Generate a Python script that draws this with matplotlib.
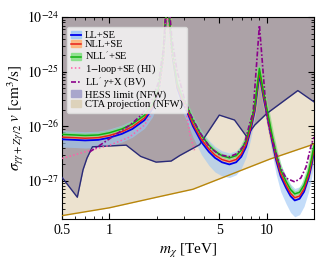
import numpy as np
import matplotlib
matplotlib.use("Agg")
import matplotlib.pyplot as plt
from matplotlib.patches import Patch
from matplotlib.lines import Line2D
from matplotlib.ticker import FixedLocator, NullFormatter, FixedFormatter

plt.rcParams['font.family'] = ['Liberation Serif', 'DejaVu Serif']
plt.rcParams['mathtext.fontset'] = 'stix'

# ---------------- data (log10 of sigma v in cm^3/s) ----------------
x_se = [0.5, 0.6, 0.7, 0.85, 1.0, 1.2, 1.4, 1.67, 1.88, 2.05, 2.2, 2.34, 2.5, 2.7, 2.9, 3.1,
        3.4, 3.85, 4.3, 4.7, 5.2, 5.8, 6.4, 6.9, 7.4, 7.9, 8.4, 9.0, 9.6, 10.2, 10.8, 11.5,
        12.3, 13.3, 14.2, 15.1, 16.2, 17.3, 18.5, 19.3, 20.0]

ll_se = [-26.24, -26.25, -26.26, -26.25, -26.21, -26.14, -26.05, -25.89, -25.68, -25.40, -24.75,
         -23.6, -24.65, -25.30, -25.55, -25.72, -26.00, -26.29, -26.47, -26.58, -26.66, -26.70,
         -26.66, -26.56, -26.38, -26.08, -25.72, -25.05, -25.50, -25.87, -26.25, -26.62, -26.92,
         -27.13, -27.28, -27.36, -27.33, -27.20, -26.95, -26.72, -26.48]
ll_se_lo = [-26.38, -26.39, -26.40, -26.39, -26.36, -26.29, -26.20, -26.04, -25.83, -25.55, -24.9,
            -23.7, -24.8, -25.45, -25.72, -25.90, -26.20, -26.52, -26.72, -26.84, -26.91, -26.94,
            -26.89, -26.77, -26.57, -26.25, -25.87, -25.15, -25.65, -26.05, -26.48, -26.88, -27.20,
            -27.42, -27.58, -27.66, -27.62, -27.47, -27.20, -26.95, -26.70]
ll_se_hi = [-26.08, -26.09, -26.10, -26.09, -26.05, -25.98, -25.89, -25.73, -25.52, -25.24, -24.6,
            -23.5, -24.5, -25.14, -25.37, -25.54, -25.81, -26.08, -26.26, -26.37, -26.45, -26.49,
            -26.45, -26.35, -26.17, -25.88, -25.54, -24.88, -25.32, -25.68, -26.05, -26.41, -26.70,
            -26.91, -27.06, -27.14, -27.11, -26.98, -26.73, -26.50, -26.26]
nll_se = [-26.20, -26.21, -26.22, -26.21, -26.17, -26.10, -26.01, -25.85, -25.64, -25.36, -24.72,
          -23.6, -24.62, -25.26, -25.51, -25.68, -25.96, -26.24, -26.42, -26.53, -26.61, -26.65,
          -26.61, -26.51, -26.33, -26.04, -25.68, -25.0, -25.46, -25.83, -26.20, -26.57, -26.87,
          -27.08, -27.23, -27.31, -27.28, -27.15, -26.90, -26.67, -26.43]
nllp_se = [-26.15, -26.16, -26.17, -26.16, -26.12, -26.05, -25.96, -25.80, -25.59, -25.31, -24.68,
           -23.6, -24.58, -25.21, -25.45, -25.62, -25.89, -26.17, -26.35, -26.46, -26.54, -26.58,
           -26.54, -26.44, -26.26, -25.97, -25.62, -24.94, -25.40, -25.77, -26.14, -26.50, -26.80,
           -27.01, -27.16, -27.24, -27.21, -27.08, -26.83, -26.60, -26.36]

x_hi = [0.5, 0.78, 1.0, 1.34, 1.67, 1.88, 2.05, 2.2, 2.3, 2.45, 2.7, 2.9, 3.08, 3.28, 3.48]
oneloop_hi = [-26.59, -26.43, -26.35, -26.20, -25.98, -25.74, -25.45, -24.9, -23.8, -24.6,
              -25.0, -25.3, -25.75, -26.2, -26.44]

x_bv = [0.75, 0.9, 1.1, 1.35, 1.59, 1.85, 2.05, 2.2, 2.34, 2.5, 2.7, 3.0, 3.3, 3.74, 4.33, 5.0,
        5.8, 6.5, 7.2, 7.8, 8.2, 9.0, 9.96, 10.5, 11.2, 12.2, 13.3, 15.1, 16.5, 17.8, 19.2, 20.0]
llp_bv = [-26.47, -26.32, -26.15, -25.98, -25.80, -25.55, -25.2, -24.6, -23.4, -24.4, -25.0,
          -25.5, -25.8, -26.1, -26.38, -26.52, -26.56, -26.5, -26.35, -25.95, -25.75, -24.15,
          -25.75, -26.1, -26.38, -26.75, -26.95, -27.02, -26.95, -26.75, -26.35, -26.2]

x_hess = [0.5, 0.625, 0.68, 0.72, 0.78, 1.28, 1.58, 1.98, 2.47, 2.8, 3.75, 5.0, 6.25, 7.45,
          8.4, 10.0, 15.8, 20.0]
hess = [1.15e-27, 5.0e-28, 1.6e-27, 2.6e-27, 4.2e-27, 4.5e-27, 2.8e-27, 2.2e-27, 2.3e-27,
        2.9e-27, 4.6e-27, 1.6e-26, 1.3e-26, 6.5e-27, 1.05e-26, 1.7e-26, 4.5e-26, 2.8e-26]

x_cta = [0.5, 1.0, 2.0, 3.4, 10.5, 20.0]
cta = [2.3e-28, 3.2e-28, 5.0e-28, 7.0e-28, 2.5e-27, 4.7e-27]

x_ticks = [0.5, 1, 5, 10]
x_ticklabels = ['0.5', '1', '5', '10']
y_ticks = [1e-27, 1e-26, 1e-25, 1e-24]
y_ticklabels = [r'$10^{-27}$', r'$10^{-26}$', r'$10^{-25}$', r'$10^{-24}$']

# ---------------- plot ----------------
fig = plt.figure(figsize=(3.2, 2.67), dpi=100)
ax = fig.add_axes([0.194, 0.18, 0.787, 0.756])
ax.set_xscale('log')
ax.set_yscale('log')
ymin, ymax = 2.0e-28, 1e-24
ax.set_xlim(0.5, 20)
ax.set_ylim(ymin, ymax)

cta_fill = '#ECE2CF'
hess_fill = '#5E5478'
ax.fill_between(x_cta, cta, ymax, color=cta_fill, lw=0, zorder=1)
ax.fill_between(x_hess, hess, ymax, color=hess_fill, alpha=0.45, lw=0, zorder=1.5)

xs = np.array(x_se)
ax.fill_between(xs, 10**np.array(ll_se_lo), 10**np.array(ll_se_hi), color='#9cc6f5',
                alpha=0.6, lw=0, zorder=2)
ax.plot(xs, 10**np.array(nll_se), color='#ffb070', lw=3.2, alpha=0.6, zorder=2.2,
        solid_capstyle='butt')
ax.plot(xs, 10**np.array(nllp_se), color='#80e080', lw=3.2, alpha=0.6, zorder=2.3,
        solid_capstyle='butt')

ax.plot(x_hess, hess, color='#2a2a78', lw=1.0, zorder=3)
ax.plot(x_cta, cta, color='#b8860b', lw=1.0, zorder=3)

ax.plot(xs, 10**np.array(ll_se), color='#0000ee', lw=1.3, zorder=4)
ax.plot(xs, 10**np.array(nll_se), color='#e8201a', lw=1.1, zorder=4.1)
ax.plot(xs, 10**np.array(nllp_se), color='#10b010', lw=1.1, zorder=4.2)
ax.plot(x_hi, 10**np.array(oneloop_hi), color='#ff5fa8', lw=1.1, ls=(0, (1, 1.5)), zorder=4.3)
ax.plot(x_bv, 10**np.array(llp_bv), color='#8b008b', lw=1.2, ls=(0, (3, 1.2, 1, 1.2)), zorder=4.4)

# ticks
ax.xaxis.set_major_locator(FixedLocator(x_ticks))
ax.xaxis.set_major_formatter(FixedFormatter(x_ticklabels))
ax.xaxis.set_minor_locator(FixedLocator([0.6, 0.7, 0.8, 0.9, 2, 3, 4, 6, 7, 8, 9, 20]))
ax.xaxis.set_minor_formatter(NullFormatter())
ax.yaxis.set_major_locator(FixedLocator(y_ticks))
ax.yaxis.set_major_formatter(FixedFormatter(y_ticklabels))
yminor = [m * 10.0**e for e in (-28, -27, -26, -25) for m in range(2, 10)
          if ymin <= m * 10.0**e <= ymax]
ax.yaxis.set_minor_locator(FixedLocator(yminor))
ax.yaxis.set_minor_formatter(NullFormatter())
ax.tick_params(which='both', direction='in', top=True, right=True, labelsize=10)
ax.tick_params(which='major', length=4, width=0.8)
ax.tick_params(which='minor', length=2, width=0.6)
ax.tick_params(axis='x', pad=4)
ax.tick_params(axis='y', pad=2)

ax.set_xlabel(r'$m_\chi$ [TeV]', fontsize=11, labelpad=3)
ax.set_ylabel(r'$\sigma_{\gamma\gamma+Z\gamma/2}\ v\ [\mathrm{cm}^3/\mathrm{s}]$', fontsize=11,
              labelpad=1)

handles = [
    (Patch(color='#9cc6f5', alpha=0.8), Line2D([], [], color='#0000ee', lw=1.3)),
    (Patch(color='#ffb070', alpha=0.8), Line2D([], [], color='#e8201a', lw=1.1)),
    (Patch(color='#80e080', alpha=0.8), Line2D([], [], color='#10b010', lw=1.1)),
    Line2D([], [], color='#ff5fa8', lw=1.1, ls=(0, (1, 1.5))),
    Line2D([], [], color='#8b008b', lw=1.2, ls=(0, (3, 1.2, 1, 1.2))),
    Patch(color='#a9a6cc'),
    Patch(color='#ddd2bb'),
]
labels = ['LL+SE', 'NLL+SE', r"NLL$'$+SE", r'1$-$loop+SE (HI)', r"LL$'$ $\gamma$+X (BV)",
          'HESS limit (NFW)', 'CTA projection (NFW)']
leg = ax.legend(handles, labels, loc='upper left', bbox_to_anchor=(0.018, 0.952),
                borderaxespad=0, fontsize=7.6, handlelength=1.0, handleheight=0.6,
                handletextpad=0.3, labelspacing=0.0, borderpad=0.4, frameon=True,
                facecolor='#f4f4f4', edgecolor='#dddddd', framealpha=0.88, fancybox=True)
leg.set_zorder(10)

fig.savefig('out.png', dpi=100)
